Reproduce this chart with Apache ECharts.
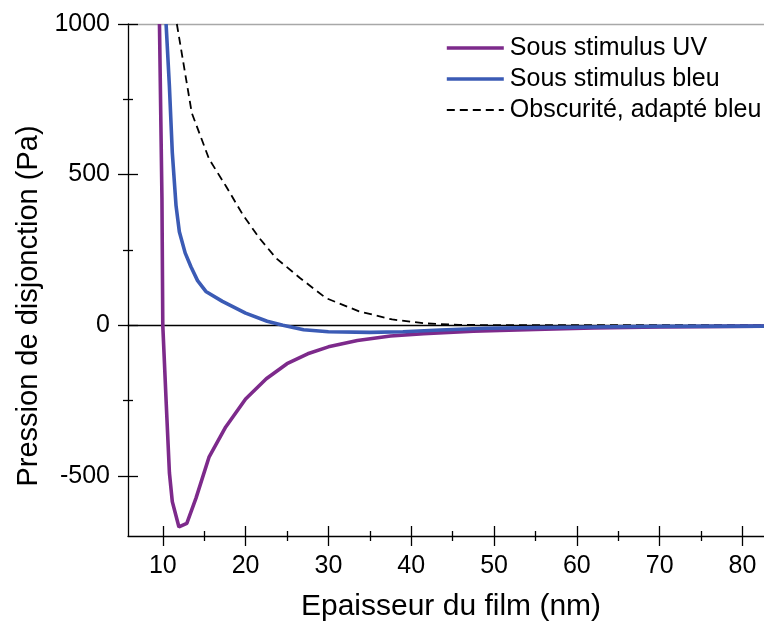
<!DOCTYPE html>
<html>
<head>
<meta charset="utf-8">
<script src="https://cdn.jsdelivr.net/npm/echarts@6/dist/echarts.min.js"></script>
<style>
html,body{margin:0;padding:0;background:#fff;}
#chart{width:764px;height:627px;}
</style>
</head>
<body>
<div id="chart"></div>
<script>
// ---- Data ----
var uvX = [9.6, 9.9, 10.0, 10.4, 10.8, 11.15, 11.95, 12.9, 14.0, 15.6, 17.6, 20.0, 22.5, 25.0, 27.5, 30.0, 33.5, 37.5, 41.5, 47.5, 55.0, 62.0, 70.0, 82.6];
var uvY = [1000, 420, 0, -250, -490, -586, -670, -658, -575, -437, -338, -245, -178, -128, -95, -72, -51, -36, -28, -20, -14, -9, -6, -3];

var blueX = [10.4, 10.8, 11.15, 11.6, 12.0, 12.7, 13.4, 14.2, 15.2, 17.2, 20.0, 22.6, 24.5, 27.0, 30.0, 35.0, 39.0, 43.5, 49.0, 55.0, 62.0, 70.0, 82.6];
var blueY = [1000, 793, 573, 397, 310, 240, 194, 148, 112, 79, 40, 13, 0, -15, -22, -24, -22, -16, -10, -8, -6, -4, -3];

var darkX = [11.7, 13.5, 15.6, 17.6, 19.7, 21.7, 23.7, 26.6, 29.7, 33.7, 37.7, 41.7, 45.8, 50.0, 60.0, 70.0, 82.6];
var darkY = [1000, 705, 551, 463, 365, 288, 222, 156, 90, 46, 19, 6, 1, 0, 0, 0, 0];

var seriesNames = ['Sous stimulus UV', 'Sous stimulus bleu', 'Obscurité, adapté bleu'];

var xMajor = [10, 20, 30, 40, 50, 60, 70, 80];
var xMinor = [15, 25, 35, 45, 55, 65, 75];
var yMajor = [-500, 0, 500, 1000];
var yMinor = [-250, 250, 750];

var xTitle = 'Epaisseur du film (nm)';
var yTitle = 'Pression de disjonction (Pa)';

// ---- Chart ----
function pairs(xs, ys) { return xs.map(function (x, i) { return [x, ys[i]]; }); }

var FONT = 'Liberation Sans, Arial, sans-serif';
var XMIN = 5.8, XMAX = 82.6, YMIN = -700, YMAX = 1000;
var TICKW = 1.3;
var C_UV = '#7d2a8b', C_BLUE = '#3b5bb5', C_DARK = '#000';
var LW = 3.6, DW = 1.8, DASH = [8, 5];

function xAx(extra) {
  var base = {
    type: 'value', min: XMIN, max: XMAX, position: 'bottom',
    axisLine: { show: false, onZero: false },
    axisTick: { show: false },
    axisLabel: { show: false },
    splitLine: { show: false }
  };
  return Object.assign(base, extra);
}
function yAx(extra) {
  var base = {
    type: 'value', min: YMIN, max: YMAX, position: 'left',
    axisLine: { show: false, onZero: false },
    axisTick: { show: false },
    axisLabel: { show: false },
    splitLine: { show: false }
  };
  return Object.assign(base, extra);
}

var option = {
  animation: false,
  backgroundColor: '#fff',
  grid: { left: 128, right: 0, top: 24, bottom: 88, containLabel: false },
  legend: {
    show: true,
    orient: 'vertical',
    left: 445, top: 35, padding: 0,
    itemWidth: 57, itemHeight: 14, itemGap: 5,
    itemStyle: { opacity: 0 },
    textStyle: { fontSize: 25, color: '#000', fontFamily: FONT, lineHeight: 26, padding: [0, 0, 0, 1] },
    data: [
      { name: seriesNames[0], itemStyle: { opacity: 0 }, lineStyle: { width: LW, color: C_UV } },
      { name: seriesNames[1], itemStyle: { opacity: 0 }, lineStyle: { width: LW, color: C_BLUE } },
      { name: seriesNames[2], itemStyle: { opacity: 0 }, lineStyle: { width: DW, color: C_DARK, type: DASH } }
    ]
  },
  xAxis: [
    xAx({
      axisLine: { show: true, onZero: false, lineStyle: { color: '#000', width: TICKW } },
      axisTick: { show: true, length: 10, customValues: xMajor, lineStyle: { color: '#000', width: TICKW } },
      axisLabel: { show: true, customValues: xMajor, fontSize: 25, color: '#000', fontFamily: FONT, margin: 18 },
      name: xTitle, nameLocation: 'middle', nameGap: 56,
      nameTextStyle: { fontSize: 30, color: '#000', fontFamily: FONT, padding: [0, 0, 0, 10] }
    }),
    xAx({ axisTick: { show: true, inside: true, length: 10, customValues: xMajor, lineStyle: { color: '#000', width: TICKW } } }),
    xAx({ axisTick: { show: true, length: 5, customValues: xMinor, lineStyle: { color: '#000', width: TICKW } } }),
    xAx({ axisTick: { show: true, inside: true, length: 5, customValues: xMinor, lineStyle: { color: '#000', width: TICKW } } }),
    xAx({ position: 'top', axisLine: { show: true, onZero: false, lineStyle: { color: '#a8a8a8', width: 1.3 } } }),
    xAx({ axisLine: { show: true, onZero: true, lineStyle: { color: '#000', width: 1.3 } } })
  ],
  yAxis: [
    yAx({
      axisLine: { show: true, onZero: false, lineStyle: { color: '#000', width: TICKW } },
      axisTick: { show: true, length: 10, customValues: yMajor, lineStyle: { color: '#000', width: TICKW } },
      axisLabel: { show: true, customValues: yMajor, fontSize: 25, color: '#000', fontFamily: FONT, margin: 18,
        formatter: function (v) { return String(v); } },
      name: yTitle, nameLocation: 'middle', nameGap: 82, nameRotate: 90,
      nameTextStyle: { fontSize: 29, color: '#000', fontFamily: FONT, padding: [0, 52, 0, 0] }
    }),
    yAx({ axisTick: { show: true, inside: true, length: 10, customValues: yMajor, lineStyle: { color: '#000', width: TICKW } } }),
    yAx({ axisTick: { show: true, length: 5, customValues: yMinor, lineStyle: { color: '#000', width: TICKW } } }),
    yAx({ axisTick: { show: true, inside: true, length: 5, customValues: yMinor, lineStyle: { color: '#000', width: TICKW } } })
  ],
  series: [
    {
      name: seriesNames[0], type: 'line', xAxisIndex: 0, yAxisIndex: 0,
      data: pairs(uvX, uvY), showSymbol: false, symbol: 'none', smooth: false,
      lineStyle: { color: C_UV, width: LW }, itemStyle: { color: C_UV }, z: 3
    },
    {
      name: seriesNames[1], type: 'line', xAxisIndex: 0, yAxisIndex: 0,
      data: pairs(blueX, blueY), showSymbol: false, symbol: 'none', smooth: false,
      lineStyle: { color: C_BLUE, width: LW }, itemStyle: { color: C_BLUE }, z: 4
    },
    {
      name: seriesNames[2], type: 'line', xAxisIndex: 0, yAxisIndex: 0,
      data: pairs(darkX, darkY), showSymbol: false, symbol: 'none', smooth: false,
      lineStyle: { color: C_DARK, width: DW, type: DASH }, itemStyle: { color: C_DARK }, z: 2
    }
  ]
};

var chart = echarts.init(document.getElementById('chart'), null, { renderer: 'canvas' });
chart.setOption(option);
</script>
</body>
</html>
